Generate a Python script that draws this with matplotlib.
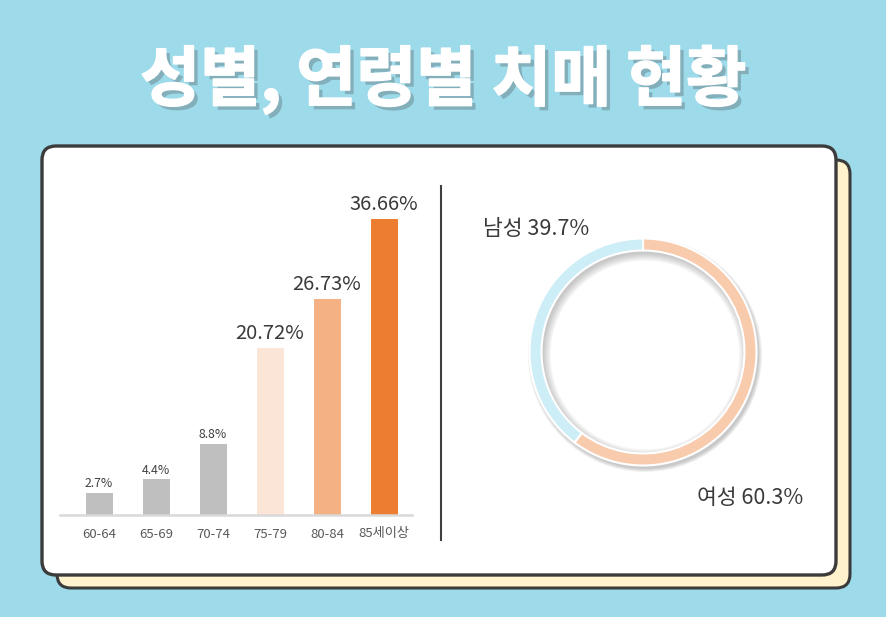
import matplotlib
matplotlib.use("Agg")
import matplotlib.pyplot as plt
import matplotlib.patheffects as pe
from matplotlib.patches import FancyBboxPatch, Wedge

plt.rcParams['font.family'] = ['Noto Sans CJK KR', 'DejaVu Sans']

# data
age_groups = ['60-64', '65-69', '70-74', '75-79', '80-84', '85세이상']
age_rates = [2.7, 4.4, 8.8, 20.72, 26.73, 36.66]
age_labels = ['2.7%', '4.4%', '8.8%', '20.72%', '26.73%', '36.66%']
bar_colors = ['#BFBFBF', '#BFBFBF', '#BFBFBF', '#FBE5D6', '#F4B183', '#ED7D31']

sex_names = ['여성', '남성']
sex_rates = [60.3, 39.7]
sex_colors = ['#F8CBAD', '#CDEDF7']

W, H = 886, 617
fig = plt.figure(figsize=(W / 100, H / 100), dpi=100)
fig.patch.set_facecolor('#9DDAEA')

# background layer in pixel coords
bg = fig.add_axes([0, 0, 1, 1])
bg.set_xlim(0, W)
bg.set_ylim(H, 0)
bg.axis('off')
bg.patch.set_alpha(0)

# cards
bg.add_patch(FancyBboxPatch((57, 160), 793, 428, boxstyle='round,pad=0,rounding_size=14',
                            fc='#FFF2CC', ec='#3B3B3B', lw=2.2))
bg.add_patch(FancyBboxPatch((42, 146), 794, 429, boxstyle='round,pad=0,rounding_size=14',
                            fc='white', ec='#3B3B3B', lw=2.4))
bg.plot([441, 441], [186, 540], color='#404040', lw=1.5)

# title
bg.text(443, 80, '성별, 연령별 치매 현황', ha='center', va='center', color='white',
        fontsize=47, fontweight='black',
        path_effects=[pe.withSimplePatchShadow(offset=(3, -3), shadow_rgbFace='#6E8C95', alpha=0.55),
                      pe.withStroke(linewidth=1.2, foreground='white')])

# bar chart
px = 57.0
left, right = 60, 412
base, top = 515, 215
ax = fig.add_axes([left / W, 1 - base / H, (right - left) / W, (base - top) / H])
ax.patch.set_alpha(0)
x = range(len(age_groups))
ax.bar(x, age_rates, width=27 / px, color=bar_colors, zorder=2)
ax.set_xlim(-(99 - left) / px, 5 + (right - 384) / px)
ax.set_ylim(0, (base - top) / 8.07)
for s in ['top', 'right', 'left']:
    ax.spines[s].set_visible(False)
ax.spines['bottom'].set_color('#D9D9D9')
ax.spines['bottom'].set_linewidth(1.8)
ax.set_yticks([])
ax.set_xticks(list(x))
ax.set_xticklabels(age_groups, fontsize=9.5, color='#595959')
ax.tick_params(axis='x', length=0, pad=9)
for i, (v, lab) in enumerate(zip(age_rates, age_labels)):
    big = v > 15
    ax.annotate(lab, (i, v), xytext=(0, 3 if big else 2), textcoords='offset points',
                ha='center', va='bottom', fontsize=14.5 if big else 8.8,
                color='#3A3A3A' if big else '#404040')

# donut chart
cx, cy, half = 643, 352, 130
pax = fig.add_axes([(cx - half) / W, 1 - (cy + half) / H, 2 * half / W, 2 * half / H])
pax.patch.set_alpha(0)
pax.set_aspect('equal')
pax.axis('off')
R, ring = 1.135, 0.12
# soft shadow of the ring
for k in range(7):
    w = ring + 0.012 * k
    pax.add_patch(Wedge((0.02, -0.03), R + 0.006 * k, 0, 360, width=w + 0.006 * k,
                        fc='#555555', ec='none', alpha=0.05, zorder=0.5))
pax.pie(sex_rates, startangle=90, counterclock=False, colors=sex_colors, radius=R,
        wedgeprops=dict(width=ring, edgecolor='white', linewidth=1.5))
pax.set_xlim(-1.3, 1.3)
pax.set_ylim(-1.3, 1.3)

bg.text(536, 229, f'{sex_names[1]} {sex_rates[1]}%', ha='center', va='center',
        fontsize=15.5, color='#3A3A3A')
bg.text(750, 498, f'{sex_names[0]} {sex_rates[0]}%', ha='center', va='center',
        fontsize=15.5, color='#3A3A3A')

fig.savefig('out.png', dpi=100, facecolor=fig.get_facecolor())
